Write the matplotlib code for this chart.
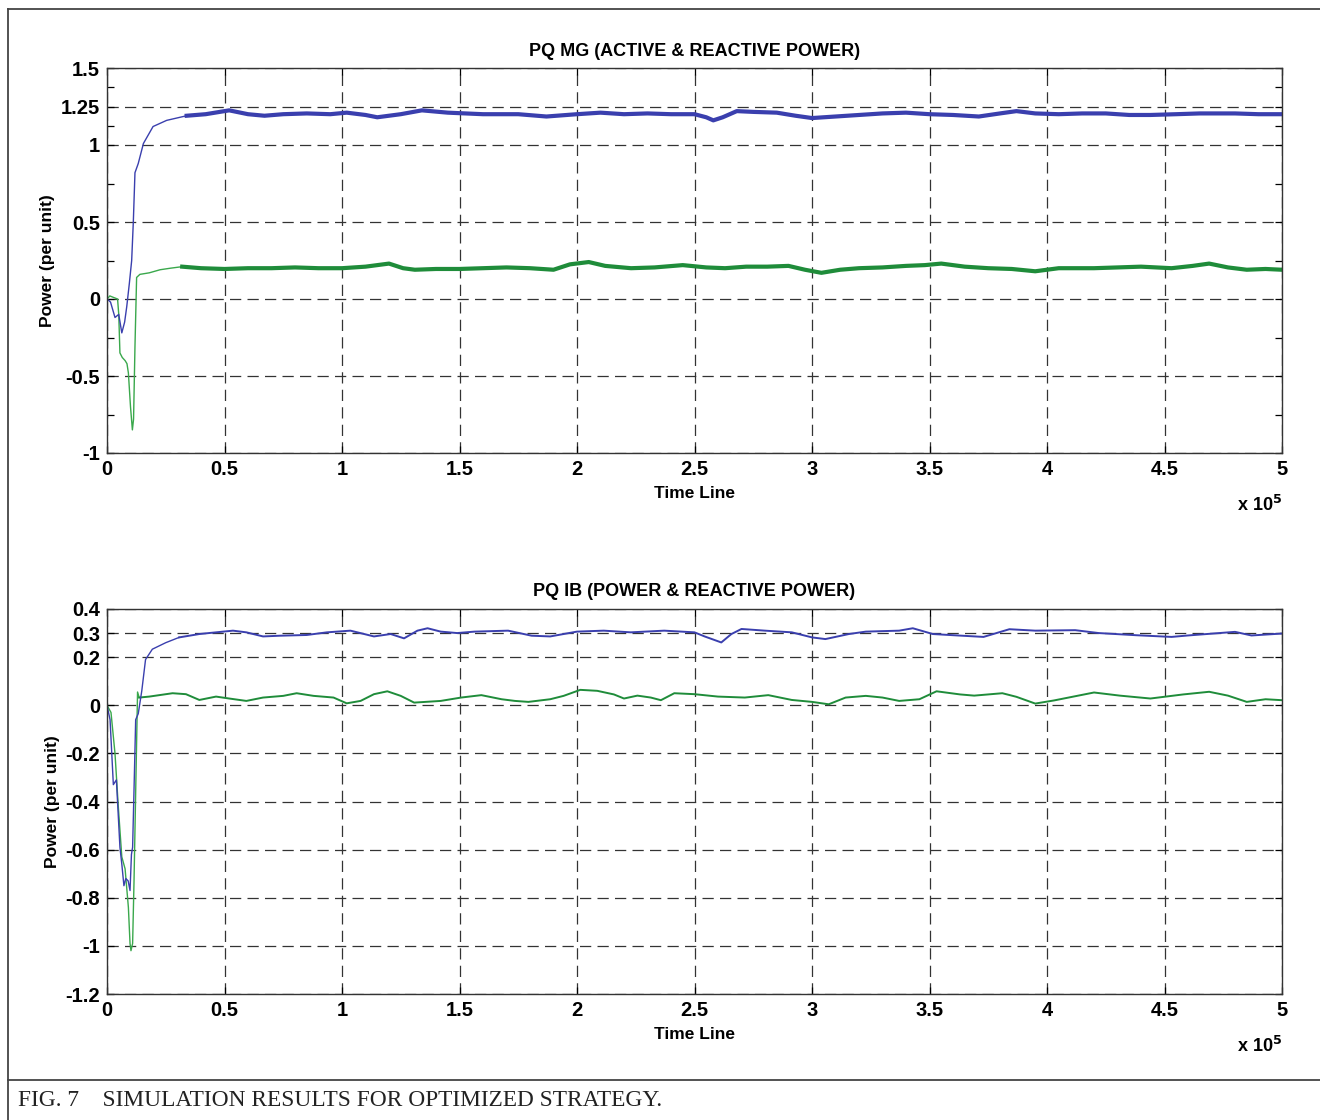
import matplotlib
matplotlib.use('Agg')
import matplotlib.pyplot as plt
from matplotlib.lines import Line2D

plt.rcParams['font.family'] = ['Liberation Sans', 'DejaVu Sans']
plt.rcParams['font.weight'] = 'bold'

# time axis in units of 1e5
# PQ MG - active power (blue), start-up part and settled part
t_pmg_start = [0, 0.015, 0.034, 0.05, 0.063, 0.075, 0.084, 0.095, 0.105, 0.112, 0.119, 0.133, 0.155, 0.196, 0.254, 0.339]
p_mg_start = [0, -0.02, -0.12, -0.10, -0.22, -0.15, -0.05, 0.1, 0.25, 0.5, 0.82, 0.88, 1.01, 1.12, 1.16, 1.19]
t_pmg = [0.339, 0.42, 0.52, 0.6, 0.67, 0.75, 0.85, 0.95, 1.02, 1.1, 1.15, 1.25, 1.34, 1.45, 1.6, 1.75,
         1.87, 2.0, 2.1, 2.2, 2.3, 2.4, 2.5, 2.55, 2.58, 2.62, 2.68, 2.75, 2.85, 2.93, 3.0, 3.1,
         3.2, 3.3, 3.4, 3.5, 3.6, 3.71, 3.8, 3.87, 3.95, 4.05, 4.15, 4.25, 4.35, 4.44, 4.55, 4.65,
         4.8, 4.9, 5.0]
p_mg = [1.19, 1.2, 1.225, 1.2, 1.19, 1.2, 1.205, 1.2, 1.21, 1.195, 1.18, 1.2, 1.225, 1.21, 1.2, 1.2,
        1.185, 1.2, 1.21, 1.2, 1.205, 1.2, 1.2, 1.18, 1.16, 1.18, 1.22, 1.215, 1.21, 1.19, 1.175, 1.185,
        1.195, 1.205, 1.21, 1.2, 1.195, 1.185, 1.205, 1.22, 1.205, 1.2, 1.205, 1.205, 1.195, 1.195, 1.2, 1.205,
        1.205, 1.2, 1.2]

# PQ MG - reactive power (green)
t_qmg_start = [0, 0.012, 0.028, 0.045, 0.05, 0.055, 0.065, 0.077, 0.085, 0.091, 0.1, 0.108, 0.113, 0.119,
               0.126, 0.14, 0.18, 0.226, 0.27, 0.32]
q_mg_start = [0, 0.02, 0.01, 0.0, -0.1, -0.35, -0.38, -0.40, -0.42, -0.48, -0.7, -0.85, -0.78, -0.31,
              0.14, 0.16, 0.17, 0.19, 0.2, 0.21]
t_qmg = [0.32, 0.4, 0.5, 0.6, 0.7, 0.8, 0.9, 1.0, 1.1, 1.2, 1.26, 1.31, 1.4, 1.5, 1.6, 1.7,
         1.8, 1.9, 1.97, 2.05, 2.12, 2.23, 2.33, 2.45, 2.55, 2.63, 2.72, 2.81, 2.9, 2.97, 3.04, 3.12,
         3.2, 3.3, 3.4, 3.48, 3.55, 3.65, 3.75, 3.85, 3.95, 4.05, 4.2, 4.3, 4.4, 4.53, 4.62, 4.69,
         4.77, 4.85, 4.93, 5.0]
q_mg = [0.21, 0.2, 0.195, 0.2, 0.2, 0.205, 0.2, 0.2, 0.21, 0.23, 0.2, 0.19, 0.195, 0.195, 0.2, 0.205,
        0.2, 0.19, 0.225, 0.24, 0.215, 0.2, 0.205, 0.22, 0.205, 0.2, 0.21, 0.21, 0.215, 0.19, 0.17, 0.19,
        0.2, 0.205, 0.215, 0.22, 0.23, 0.21, 0.2, 0.195, 0.18, 0.2, 0.2, 0.205, 0.21, 0.2, 0.215, 0.23,
        0.205, 0.19, 0.195, 0.19]

# PQ IB - power (blue)
t_pib_start = [0, 0.013, 0.027, 0.04, 0.055, 0.063, 0.072, 0.08, 0.09, 0.098, 0.104, 0.109, 0.116, 0.122,
               0.133, 0.148, 0.164, 0.193, 0.25, 0.307]
p_ib_start = [0, -0.06, -0.33, -0.31, -0.59, -0.66, -0.75, -0.72, -0.73, -0.77, -0.62, -0.59, -0.31, -0.06,
              -0.035, 0.06, 0.19, 0.233, 0.26, 0.282]
t_pib = [0.307, 0.393, 0.464, 0.536, 0.593, 0.664, 0.736, 0.85, 0.936, 1.036, 1.136, 1.207, 1.264, 1.321,
         1.364, 1.42, 1.49, 1.564, 1.707, 1.807, 1.886, 2.0, 2.114, 2.229, 2.371, 2.5, 2.543, 2.614,
         2.657, 2.7, 2.8, 2.914, 3.0, 3.057, 3.157, 3.229, 3.371, 3.429, 3.514, 3.62, 3.73, 3.84,
         3.95, 4.12, 4.22, 4.38, 4.53, 4.6, 4.8, 4.87, 5.0]
p_ib = [0.282, 0.296, 0.303, 0.31, 0.303, 0.286, 0.289, 0.292, 0.303, 0.31, 0.286, 0.296, 0.278, 0.31,
        0.32, 0.306, 0.3, 0.306, 0.31, 0.289, 0.286, 0.306, 0.31, 0.303, 0.31, 0.303, 0.286, 0.261,
        0.296, 0.317, 0.31, 0.303, 0.282, 0.275, 0.296, 0.306, 0.31, 0.32, 0.296, 0.29, 0.284, 0.316,
        0.31, 0.312, 0.3, 0.291, 0.284, 0.29, 0.305, 0.29, 0.298]

# PQ IB - reactive power (green)
t_qib_start = [0, 0.017, 0.034, 0.048, 0.063, 0.077, 0.091, 0.098, 0.102, 0.109, 0.115, 0.123, 0.13, 0.137]
q_ib_start = [0, -0.03, -0.2, -0.42, -0.63, -0.68, -0.84, -0.99, -1.02, -0.99, -0.73, -0.31, 0.055, 0.032]
t_qib = [0.137, 0.18, 0.279, 0.336, 0.393, 0.464, 0.52, 0.593, 0.664, 0.75, 0.807, 0.879, 0.964, 1.02,
         1.079, 1.136, 1.193, 1.25, 1.307, 1.42, 1.507, 1.593, 1.679, 1.736, 1.793, 1.886, 1.943, 2.014,
         2.086, 2.157, 2.2, 2.257, 2.314, 2.357, 2.414, 2.5, 2.6, 2.714, 2.814, 2.914, 3.0, 3.071,
         3.143, 3.229, 3.3, 3.371, 3.457, 3.53, 3.63, 3.69, 3.81, 3.87, 3.95, 4.03, 4.2, 4.31,
         4.44, 4.58, 4.69, 4.77, 4.85, 4.93, 5.0]
q_ib = [0.032, 0.036, 0.05, 0.046, 0.022, 0.036, 0.028, 0.018, 0.032, 0.039, 0.05, 0.039, 0.032, 0.008,
        0.018, 0.046, 0.058, 0.039, 0.011, 0.018, 0.032, 0.042, 0.025, 0.018, 0.014, 0.025, 0.039, 0.064,
        0.06, 0.045, 0.028, 0.04, 0.032, 0.021, 0.05, 0.046, 0.036, 0.032, 0.042, 0.022, 0.014, 0.004,
        0.032, 0.039, 0.032, 0.018, 0.025, 0.058, 0.045, 0.04, 0.05, 0.035, 0.007, 0.02, 0.053, 0.04,
        0.028, 0.045, 0.056, 0.04, 0.014, 0.025, 0.021]

x_ticks = [0, 0.5, 1, 1.5, 2, 2.5, 3, 3.5, 4, 4.5, 5]
x_labels = ['0', '0.5', '1', '1.5', '2', '2.5', '3', '3.5', '4', '4.5', '5']
mg_yticks = [-1, -0.5, 0, 0.5, 1, 1.25, 1.5]
mg_ylabels = ['-1', '-0.5', '0', '0.5', '1', '1.25', '1.5']
mg_yminor = [-0.75, -0.25, 0.25, 0.75, 1.125, 1.375]
ib_yticks = [-1.2, -1, -0.8, -0.6, -0.4, -0.2, 0, 0.2, 0.3, 0.4]
ib_ylabels = ['-1.2', '-1', '-0.8', '-0.6', '-0.4', '-0.2', '0', '0.2', '0.3', '0.4']

blue = '#3a3fae'
green = '#1f8c3a'
green_light = '#3aa84c'

fig = plt.figure(figsize=(13.2, 11.2), dpi=100)

# frame around the figure and caption box
W, H = 1320, 1120
def fx(px):
    return px / W
def fy(py):
    return 1 - py / H
for xs, ys in [([8, 1320], [9, 9]), ([8, 8], [9, 1120]), ([8, 1320], [1080, 1080])]:
    fig.add_artist(Line2D([fx(x) for x in xs], [fy(y) for y in ys], color='#444444', lw=1.3))
fig.text(fx(18), fy(1101), 'FIG. 7    SIMULATION RESULTS FOR OPTIMIZED STRATEGY.',
         family=['Liberation Serif', 'DejaVu Serif'], fontweight='normal', fontsize=16.8,
         va='center', ha='left', color='#222222')

ax1 = fig.add_axes([fx(107), fy(453), fx(1282) - fx(107), fy(68) - fy(453)])
ax2 = fig.add_axes([fx(107), fy(994), fx(1282) - fx(107), fy(609) - fy(994)])

ax1.plot(t_qmg_start, q_mg_start, color=green_light, lw=1.0)
ax1.plot(t_qmg, q_mg, color=green, lw=3.0, solid_joinstyle='round')
ax1.plot(t_pmg_start, p_mg_start, color=blue, lw=1.0)
ax1.plot(t_pmg, p_mg, color=blue, lw=3.0, solid_joinstyle='round')

ax2.plot(t_qib_start, q_ib_start, color=green_light, lw=1.0)
ax2.plot(t_qib, q_ib, color=green, lw=1.4)
ax2.plot(t_pib_start, p_ib_start, color=blue, lw=1.0)
ax2.plot(t_pib, p_ib, color=blue, lw=1.4)

ax1.set_ylim(-1, 1.5)
ax1.set_yticks(mg_yticks)
ax1.set_yticklabels(mg_ylabels)
ax1.set_yticks(mg_yminor, minor=True)
ax1.set_title('PQ MG (ACTIVE & REACTIVE POWER)', fontsize=13, fontweight='bold', pad=9)

ax2.set_ylim(-1.2, 0.4)
ax2.set_yticks(ib_yticks)
ax2.set_yticklabels(ib_ylabels)
ax2.set_title('PQ IB (POWER & REACTIVE POWER)', fontsize=13, fontweight='bold', pad=9)

for ax in (ax1, ax2):
    ax.set_xlim(0, 5)
    ax.set_xticks(x_ticks)
    ax.set_xticklabels(x_labels)
    ax.grid(True, which='major', color='#333333', linestyle=(0, (9, 5)), lw=0.9)
    ax.tick_params(which='both', direction='in', top=True, right=True, length=5, width=0.9,
                   labelsize=14.5, pad=5)
    for lab in ax.get_xticklabels() + ax.get_yticklabels():
        lab.set_fontweight('bold')
    for sp in ax.spines.values():
        sp.set_color('#333333')
        sp.set_linewidth(1.0)
    ax.set_xlabel('Time Line', fontsize=12.5, fontweight='bold', labelpad=5)
    ax.set_ylabel('Power (per unit)', fontsize=12.5, fontweight='bold', labelpad=4)
    ax.text(1.0, -0.135, 'x 10$^\\mathbf{5}$', transform=ax.transAxes, ha='right', va='center',
            fontsize=13, fontweight='bold')

fig.savefig('out.png', dpi=100)
